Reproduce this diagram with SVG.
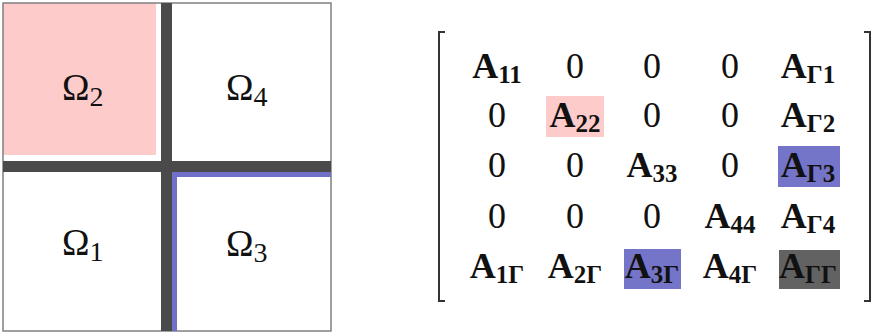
<svg xmlns="http://www.w3.org/2000/svg" width="875" height="333" viewBox="0 0 875 333">
<style>
.om{font-family:"Liberation Serif","Times New Roman",serif;font-size:37px;fill:#111}
.om .s{font-size:28px}
.m{font-family:"Liberation Serif","Times New Roman",serif;font-size:36px;fill:#111;text-anchor:middle}
.b{font-weight:bold}
.sub{font-size:25px;font-weight:bold}
.br{fill:none;stroke:#333;stroke-width:2}
</style>
<rect width="875" height="333" fill="#fff"/>
<g id="domain">
  <rect id="omega2-fill" x="3" y="3" width="153" height="152" fill="#fecbcb"/>
  <rect x="3" y="3" width="328" height="328" fill="none" stroke="#808080" stroke-width="1.5"/>
  <rect x="172" y="172" width="5" height="159" fill="#7070c8"/>
  <rect x="172" y="172" width="159" height="5" fill="#7070c8"/>
  <rect x="161" y="3" width="11" height="328" fill="#4a4a4a"/>
  <rect x="3" y="161" width="328" height="11" fill="#4a4a4a"/>
  <text class="om" x="62" y="100">Ω<tspan class="s" dy="6">2</tspan></text>
  <text class="om" x="226" y="100">Ω<tspan class="s" dy="6">4</tspan></text>
  <text class="om" x="62" y="255">Ω<tspan class="s" dy="6">1</tspan></text>
  <text class="om" x="226" y="256">Ω<tspan class="s" dy="6">3</tspan></text>
</g>
<g id="matrix">
  <path class="br" d="M445,32 H439 V301 H445"/>
  <path class="br" d="M864,32 H870 V301 H864"/>
  <rect x="546" y="96" width="58" height="41" fill="#fecbcb"/>
  <rect x="778" y="146" width="62" height="41" fill="#7474c8"/>
  <rect x="624" y="249" width="57" height="40" fill="#7474c8"/>
  <rect x="779" y="250" width="61" height="39" fill="#626262"/>
  <text class="m b" x="497" y="78">A<tspan class="sub" dy="5">11</tspan></text>
  <text class="m" x="575" y="78">0</text>
  <text class="m" x="652" y="78">0</text>
  <text class="m" x="730" y="78">0</text>
  <text class="m b" x="808" y="78">A<tspan class="sub" dy="5">Γ1</tspan></text>

  <text class="m" x="497" y="127">0</text>
  <text class="m b" x="575" y="127">A<tspan class="sub" dy="5">22</tspan></text>
  <text class="m" x="652" y="127">0</text>
  <text class="m" x="730" y="127">0</text>
  <text class="m b" x="808" y="127">A<tspan class="sub" dy="5">Γ2</tspan></text>

  <text class="m" x="497" y="177">0</text>
  <text class="m" x="575" y="177">0</text>
  <text class="m b" x="652" y="177">A<tspan class="sub" dy="5">33</tspan></text>
  <text class="m" x="730" y="177">0</text>
  <text class="m b" x="808" y="177">A<tspan class="sub" dy="5">Γ3</tspan></text>

  <text class="m" x="497" y="228">0</text>
  <text class="m" x="575" y="228">0</text>
  <text class="m" x="652" y="228">0</text>
  <text class="m b" x="730" y="228">A<tspan class="sub" dy="5">44</tspan></text>
  <text class="m b" x="808" y="228">A<tspan class="sub" dy="5">Γ4</tspan></text>

  <text class="m b" x="497" y="278">A<tspan class="sub" dy="5">1Γ</tspan></text>
  <text class="m b" x="575" y="278">A<tspan class="sub" dy="5">2Γ</tspan></text>
  <text class="m b" x="652" y="278">A<tspan class="sub" dy="5">3Γ</tspan></text>
  <text class="m b" x="730" y="278">A<tspan class="sub" dy="5">4Γ</tspan></text>
  <text class="m b" x="808" y="278">A<tspan class="sub" dy="5">ΓΓ</tspan></text>
</g>
</svg>
